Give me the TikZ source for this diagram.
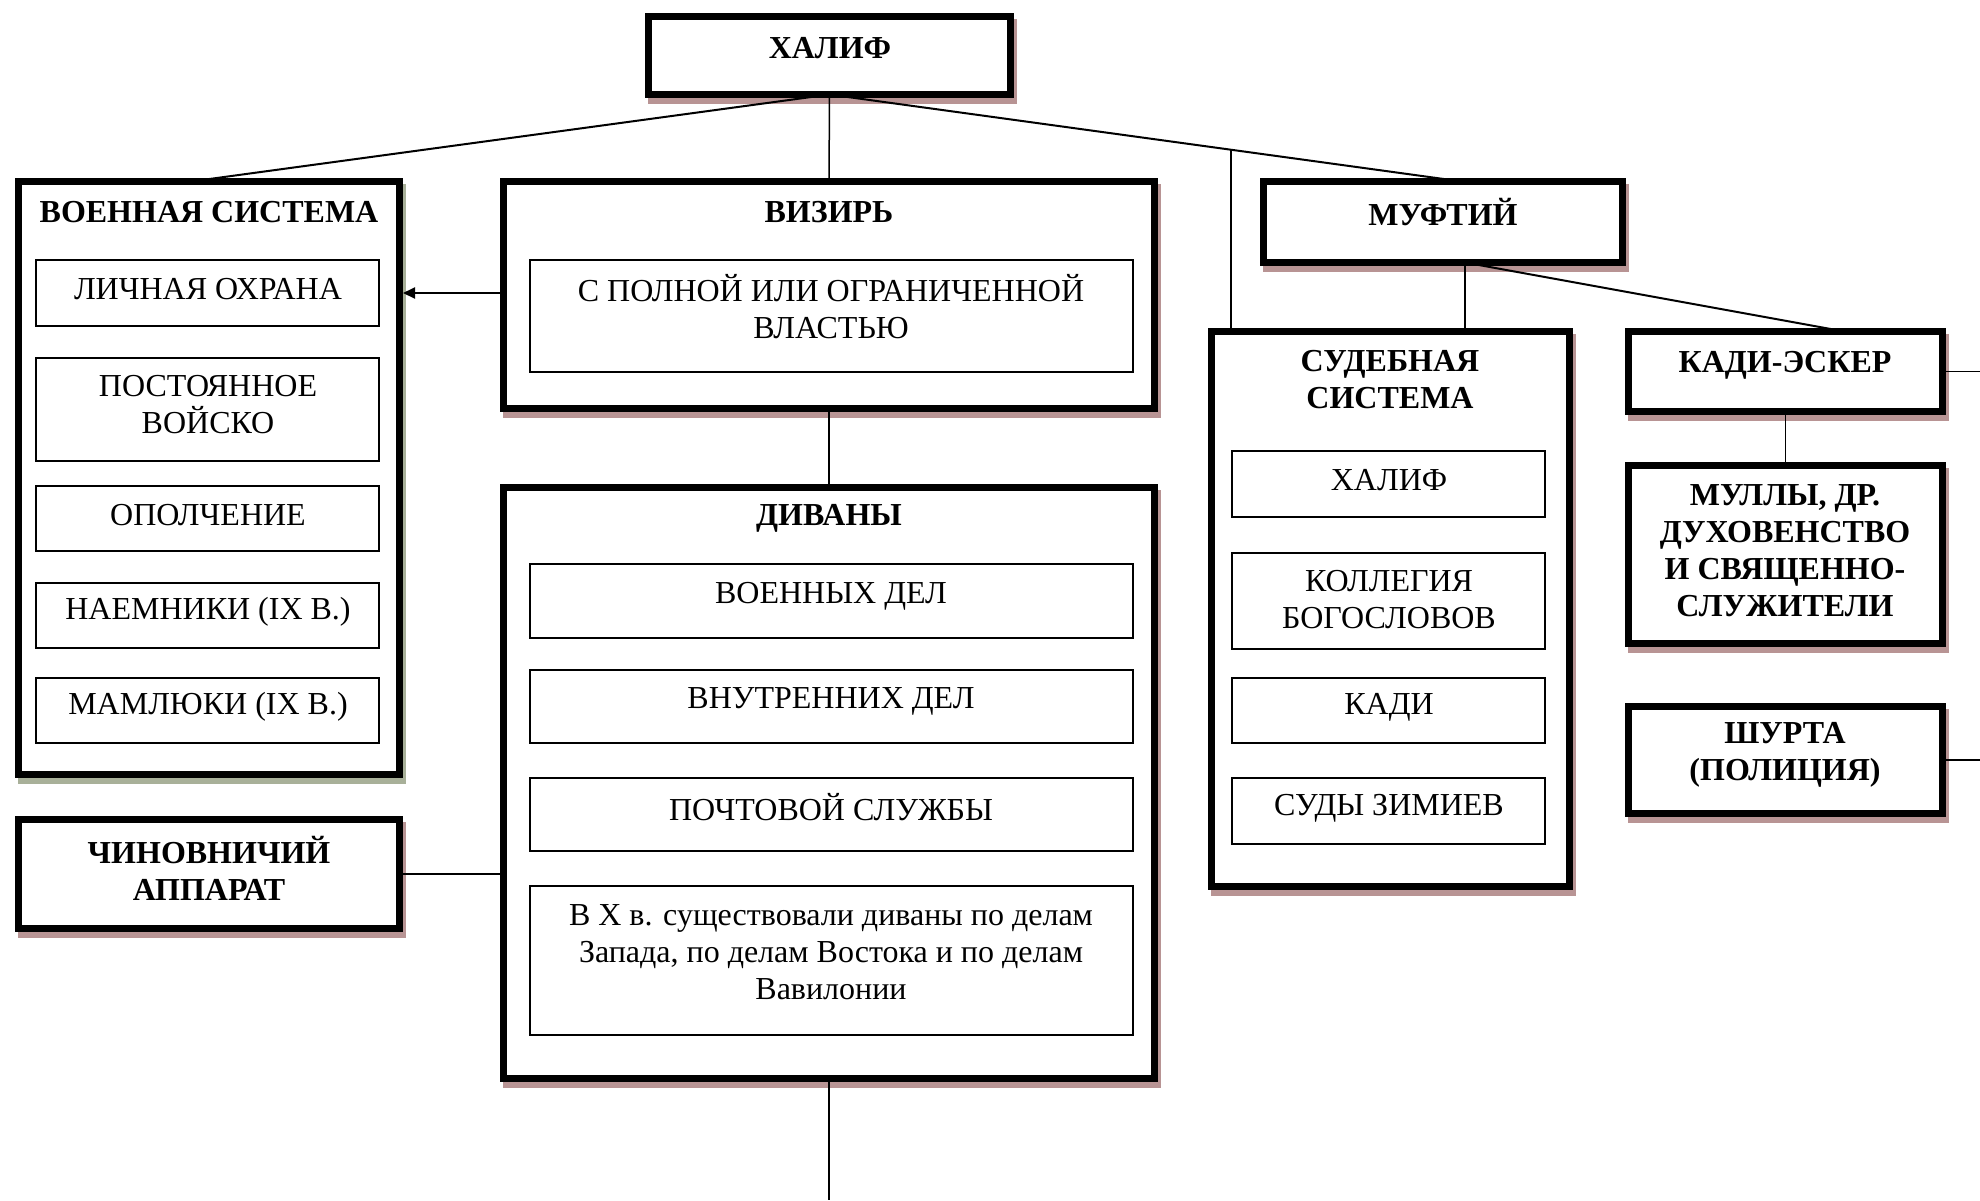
\documentclass[tikz,border=0pt]{standalone}
\usepackage{fontspec}
\setmainfont{Liberation Serif}
\usetikzlibrary{fit,arrows.meta,calc}
\definecolor{shadowc}{rgb}{0.72,0.58,0.58}
\definecolor{shadowg}{rgb}{0.66,0.69,0.60}
\newcommand\myfs{\fontsize{16}{18.5}\selectfont}
\begin{document}
\begin{tikzpicture}[x=0.5pt,y=-0.5pt,
  bigbox/.style={draw, line width=3.5pt, fill=white, inner sep=0pt, outer sep=0pt,
    preaction={draw=#1, line width=3.5pt, transform canvas={shift={(1.5pt,-3pt)}}}},
  bigbox/.default=shadowc,
  smallbox/.style={draw, line width=1pt, fill=white, inner sep=0pt, outer sep=0pt},
  txt/.style={font=\myfs, align=center, inner sep=0pt},
  ttl/.style={font=\myfs\bfseries, align=center, inner sep=0pt},
  conn/.style={line width=1pt},
  vline/.style={line width=0.75pt},
  arr/.style={line width=1pt, -{Triangle[length=6pt,width=5.5pt]}, shorten >=1.75pt}
]
\useasboundingbox[fill=white] (0,0) rectangle (1980,1200);

% top
\node[bigbox, fit={(648.5,16.5) (1010.5,94.5)}] (halif) {};
\node[ttl] (halift) at (830,48) {ХАЛИФ};

% military system
\node[bigbox=shadowg, fit={(18.5,181.5) (399.5,774.5)}] (voen) {};
\node[ttl] (voent) at (209,212) {ВОЕННАЯ СИСТЕМА};
\node[smallbox, fit={(36,260) (379,326)}] (lich) {};
\node[txt] (licht) at (208,289) {ЛИЧНАЯ ОХРАНА};
\node[smallbox, fit={(36,358) (379,461)}] (post) {};
\node[txt] (postt) at (208,405) {ПОСТОЯННОЕ\\ВОЙСКО};
\node[smallbox, fit={(36,486) (379,551)}] (opol) {};
\node[txt] (opolt) at (208,515) {ОПОЛЧЕНИЕ};
\node[smallbox, fit={(36,583) (379,648)}] (naem) {};
\node[txt] (naemt) at (208,612) {НАЕМНИКИ (IX В.)};
\node[smallbox, fit={(36,678) (379,743)}] (maml) {};
\node[txt] (mamlt) at (208,707) {МАМЛЮКИ (IX В.)};

% officials
\node[bigbox, fit={(18.5,819.5) (399.5,928.5)}] (chin) {};
\node[ttl] (chint) at (209,868) {ЧИНОВНИЧИЙ\\АППАРАТ};

% vizier
\node[bigbox, fit={(503.5,181.5) (1154.5,408.5)}] (vizir) {};
\node[ttl] (vizirt) at (829,212) {ВИЗИРЬ};
\node[smallbox, fit={(530,260) (1133,372)}] (vlast) {};
\node[txt] (vlastt) at (831,307) {С ПОЛНОЙ ИЛИ ОГРАНИЧЕННОЙ\\ВЛАСТЬЮ};

% divans
\node[bigbox, fit={(503.5,487.5) (1154.5,1078.5)}] (divan) {};
\node[ttl] (divant) at (829,518) {ДИВАНЫ};
\node[smallbox, fit={(530,564) (1133,638)}] (d1) {};
\node[txt] (d1t) at (831,596) {ВОЕННЫХ ДЕЛ};
\node[smallbox, fit={(530,670) (1133,743)}] (d2) {};
\node[txt] (d2t) at (831,701) {ВНУТРЕННИХ ДЕЛ};
\node[smallbox, fit={(530,778) (1133,851)}] (d3) {};
\node[txt] (d3t) at (831,807) {ПОЧТОВОЙ СЛУЖБЫ};
\node[smallbox, fit={(530,886) (1133,1035)}] (d4) {};
\node[txt] (d4t) at (831,952) {В X в. существовали диваны по делам\\Запада, по делам Востока и по делам\\Вавилонии};

% mufti
\node[bigbox, fit={(1263.5,181.5) (1622.5,262.5)}] (mufti) {};
\node[ttl] (muftit) at (1443,212) {МУФТИЙ};

% judicial system
\node[bigbox, fit={(1211.5,331.5) (1569.5,886.5)}] (sud) {};
\node[ttl] (sudt) at (1390,380) {СУДЕБНАЯ\\СИСТЕМА};
\node[smallbox, fit={(1232,451) (1545,517)}] (s1) {};
\node[txt] (s1t) at (1389,480) {ХАЛИФ};
\node[smallbox, fit={(1232,553) (1545,649)}] (s2) {};
\node[txt] (s2t) at (1389,600) {КОЛЛЕГИЯ\\БОГОСЛОВОВ};
\node[smallbox, fit={(1232,678) (1545,743)}] (s3) {};
\node[txt] (s3t) at (1389,707) {КАДИ};
\node[smallbox, fit={(1232,778) (1545,844)}] (s4) {};
\node[txt] (s4t) at (1389,808) {СУДЫ ЗИМИЕВ};

% right column
\node[bigbox, fit={(1628.5,331.5) (1942.5,411.5)}] (kesk) {};
\node[ttl] (keskt) at (1785,365) {КАДИ-ЭСКЕР};
\node[bigbox, fit={(1628.5,465.5) (1942.5,643.5)}] (mully) {};
\node[ttl] (mullyt) at (1785,551) {МУЛЛЫ, ДР.\\ДУХОВЕНСТВО\\И СВЯЩЕННО-\\СЛУЖИТЕЛИ};
\node[bigbox, fit={(1628.5,706.5) (1942.5,813.5)}] (shurta) {};
\node[ttl] (shurtat) at (1785,755) {ШУРТА\\(ПОЛИЦИЯ)};

% helper coordinates
\coordinate (jt) at (1231,0);
\coordinate (jb) at (1231,400);
\coordinate (redge) at (1980,0);
\coordinate (bot) at (829,1200);
\coordinate (mt) at ($(mufti.north)+(19,0)$);
\coordinate (ms) at ($(mufti.south)+(22,0)$);
\coordinate (j) at (intersection of halif.south--mt and jt--jb);

% connectors
\draw[conn] (halif.south) -- ($(voen.north)+(-18,0)$);
\draw[conn] (halif.south) -- (mt);
\draw[vline] (halif.south) -- (vizir.north);
\draw[vline] (j) -- (j |- sud.north);
\draw[arr] (lich -| vizir.west) -- (lich -| voen.east);
\draw[vline] (vizir.south) -- (divan.north);
\draw[vline] (divan.south) -- (divan.south |- bot);
\draw[vline] (chin.east) -- (chin.east -| divan.west);
\draw[vline] (ms) -- (ms |- sud.north);
\draw[conn] (ms) -- ($(kesk.north)+(59,0)$);
\draw[vline] (kesk.south) -- (mully.north);
\draw[vline] (kesk.east) -- (kesk.east -| redge);
\draw[vline] (shurta.east) -- (shurta.east -| redge);
\end{tikzpicture}
\end{document}
